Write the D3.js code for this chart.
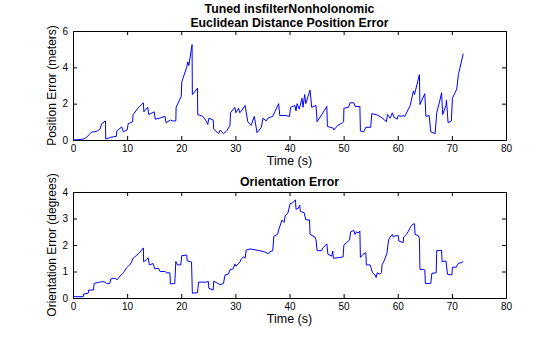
<!DOCTYPE html>
<html><head><meta charset="utf-8">
<script src="https://cdn.jsdelivr.net/npm/d3@7"></script>
<style>body{margin:0;background:#fff}svg{display:block}text{font-family:"Liberation Sans",Arial,sans-serif;fill:#000}</style>
</head><body>
<svg id="c" width="560" height="337"></svg>
<script>
const xTicks=[0,10,20,30,40,50,60,70,80];
const posTicks=[0,2,4,6];
const oriTicks=[0,1,2,3,4];
const posTime=[0,1,2,2.5,3,3.5,4,4.5,5,5.3,6,6.05,7,8,8.1,9,9.3,10,10.2,11,11.1,12,13,13.1,13.8,14,15,15.2,16,17,17.2,18,18.3,19,19.05,20,20.1,21,21.2,21.4,22,22.05,23,23.05,24,24.7,24.9,25.1,25.9,26.0,26.9,27.2,27.8,28.4,29,29.1,29.9,30.1,30.6,30.8,31.0,31.8,32.3,32.9,33.5,34.0,34.8,35.1,35.7,36.0,36.9,38.0,38.2,39.2,40.0,40.2,41.0,41.2,41.4,41.8,42.3,42.5,42.8,43.0,43.8,44.1,44.9,45.1,46.9,47.0,48.1,48.2,48.9,49.8,50.0,50.05,50.9,51.2,51.9,52.1,53.0,53.1,53.7,54.1,55.0,55.2,56.0,56.7,57.6,57.9,58.1,58.6,59.0,59.3,59.9,60.1,60.6,61.0,61.3,62.3,62.9,63.1,64.0,64.1,65.0,65.2,65.8,66.1,66.9,67.2,67.8,68.1,68.3,68.9,69.0,69.3,69.9,70.1,70.9,71.2,72.1];
const posErr=[0,0.02,0.05,0.15,0.3,0.45,0.45,0.5,0.6,0.9,1.05,0.05,0.15,0.2,0.5,0.72,0.45,0.55,0.9,1.0,1.4,1.75,2.05,1.55,1.8,1.4,1.55,1.15,1.2,1.3,0.95,1.1,1.05,1.05,1.8,2.4,3.2,4.0,4.3,4.1,5.25,2.5,2.85,1.4,1.3,1.0,0.85,1.2,1.1,0.6,0.35,0.55,0.35,0.5,0.8,1.5,1.8,1.5,1.75,1.5,1.55,1.9,1.0,0.8,1.3,0.4,0.7,1.2,1.05,1.2,1.3,2.0,1.35,1.35,1.3,1.8,1.9,1.6,2.0,1.7,2.3,1.8,2.5,2.0,2.75,1.8,1.9,1.0,1.85,0.75,0.65,0.55,0.8,0.95,1.0,1.75,1.8,2.05,2.05,1.85,1.85,0.5,0.45,0.7,0.7,1.45,1.4,1.3,1.1,1.0,1.4,1.2,1.5,1.25,1.15,1.35,1.3,1.35,1.3,1.9,2.7,2.5,3.6,1.95,2.55,1.3,1.35,0.45,0.35,1.5,2.2,2.6,1.4,1.9,2.2,0.95,1.05,2.3,2.8,3.6,4.75];
const oriTime=[0,1.9,1.95,2.8,2.9,3.8,3.9,4.9,5.5,5.9,6.2,6.8,7.0,7.8,8.1,8.7,9.3,9.9,10.2,10.5,10.8,11.1,11.8,12.2,12.7,13.0,13.05,13.6,13.9,14.1,14.8,15.1,15.8,16.1,17.0,17.3,17.9,18.0,18.8,19.0,19.3,19.9,20.1,21.0,21.1,21.9,22.05,23.0,23.2,24.7,25.0,25.1,25.9,26.0,26.5,27.2,27.8,28.1,28.7,29.0,29.6,29.9,30.1,30.9,31.0,31.5,31.8,32.0,32.7,33.6,34.6,35.5,36.1,36.4,36.9,37.1,37.8,38.0,38.6,39.0,39.2,39.7,40.1,40.6,41.1,41.2,41.6,41.9,42.0,42.7,43.0,43.7,43.8,44.7,44.9,45.1,45.9,46.2,46.9,47.1,47.8,48.0,48.1,49.0,49.9,50.05,50.6,51.1,51.3,51.9,52.1,52.4,52.7,53.0,53.1,53.6,54.1,54.2,54.9,55.1,55.3,55.8,56.0,56.2,56.7,57.0,57.1,57.5,58.0,58.3,58.6,59.0,59.2,59.5,60.1,60.2,61.0,61.1,61.6,61.9,62.4,62.8,63.1,63.2,63.8,64.0,64.1,64.7,65.0,65.1,66.1,66.3,67.1,67.2,68.1,68.2,68.9,69.2,70.0,70.1,70.8,71.2,71.7,72.1];
const oriErr=[0.05,0.05,0.15,0.18,0.3,0.3,0.55,0.6,0.62,0.6,0.55,0.55,0.72,0.75,0.68,0.83,0.95,1.14,1.2,1.25,1.35,1.5,1.62,1.69,1.81,1.89,1.37,1.45,1.52,1.25,1.3,1.1,1.12,1.0,1.0,0.95,0.95,0.53,0.55,1.38,1.25,1.25,1.6,1.62,1.4,1.36,0.18,0.2,0.6,0.6,0.62,0.37,0.3,0.63,0.58,0.5,0.55,0.87,0.9,1.06,1.1,1.28,1.2,1.37,1.45,1.56,1.5,1.81,1.85,1.82,1.78,1.73,1.67,1.75,1.78,2.33,2.4,2.57,2.94,2.85,3.1,3.2,3.55,3.6,3.7,3.35,3.38,3.5,3.27,3.22,2.95,2.95,2.4,2.3,2.19,1.79,1.78,1.9,2.04,1.65,1.58,1.77,1.5,1.52,1.55,2.0,2.1,2.19,2.5,2.55,2.4,2.5,2.45,2.53,1.53,1.65,1.71,1.25,1.25,1.12,0.97,0.87,0.77,0.95,0.9,0.96,1.25,1.41,1.69,2.19,2.3,2.4,2.3,2.35,2.35,2.15,2.09,2.3,2.4,2.5,2.69,2.79,2.8,2.4,2.35,2.25,1.08,1.08,1.06,0.55,0.55,0.93,0.95,1.79,1.8,1.37,1.4,0.89,0.87,1.16,1.16,1.31,1.33,1.37];

const svg=d3.select("#c");
svg.append("rect").attr("width",560).attr("height",337).attr("fill","#fff");
const L=73,R=506;
function panel(top,bottom,ymax,yticks,times,vals,ylabel,titleLines,titleY){
  const x=d3.scaleLinear().domain([0,80]).range([L,R]);
  const y=d3.scaleLinear().domain([0,ymax]).range([bottom,top]);
  const g=svg.append("g");
  const tl=4;
  g.append("g").attr("transform",`translate(0,${bottom})`).call(d3.axisBottom(x).tickValues(xTicks).tickSize(-tl).tickPadding(5).tickFormat(d3.format("d")));
  g.append("g").attr("transform",`translate(0,${top})`).call(d3.axisTop(x).tickValues(xTicks).tickSize(-tl).tickFormat(""));
  g.append("g").attr("transform",`translate(${L},0)`).call(d3.axisLeft(y).tickValues(yticks).tickSize(-tl).tickPadding(5).tickFormat(d3.format("d")));
  g.append("g").attr("transform",`translate(${R},0)`).call(d3.axisRight(y).tickValues(yticks).tickSize(-tl).tickFormat(""));
  g.selectAll(".domain").attr("stroke","#000");
  g.selectAll(".tick line").attr("stroke","#000");
  g.selectAll(".tick text").attr("font-size",10).attr("fill","#000").style("font-family","'Liberation Sans',Arial,sans-serif");
  const data=times.map((t,i)=>[t,vals[i]]);
  g.append("path").datum(data).attr("fill","none").attr("stroke","#0000ff").attr("stroke-width",1)
   .attr("d",d3.line().x(d=>x(d[0])).y(d=>y(d[1])));
  g.append("text").attr("x",(L+R)/2).attr("y",bottom+25).attr("text-anchor","middle").attr("font-size",12.5).text("Time (s)");
  g.append("text").attr("transform",`translate(56,${(top+bottom)/2}) rotate(-90)`).attr("text-anchor","middle").attr("font-size",12).text(ylabel);
  titleLines.forEach((s,i)=>g.append("text").attr("x",(L+R)/2).attr("y",titleY[i]).attr("text-anchor","middle").attr("font-size",12.3).attr("font-weight","bold").text(s));
}
panel(31,140,6,posTicks,posTime,posErr,"Position Error (meters)",["Tuned insfilterNonholonomic","Euclidean Distance Position Error"],[13,26.5]);
panel(192,298,4,oriTicks,oriTime,oriErr,"Orientation Error (degrees)",["Orientation Error"],[186]);
</script>
</body></html>
